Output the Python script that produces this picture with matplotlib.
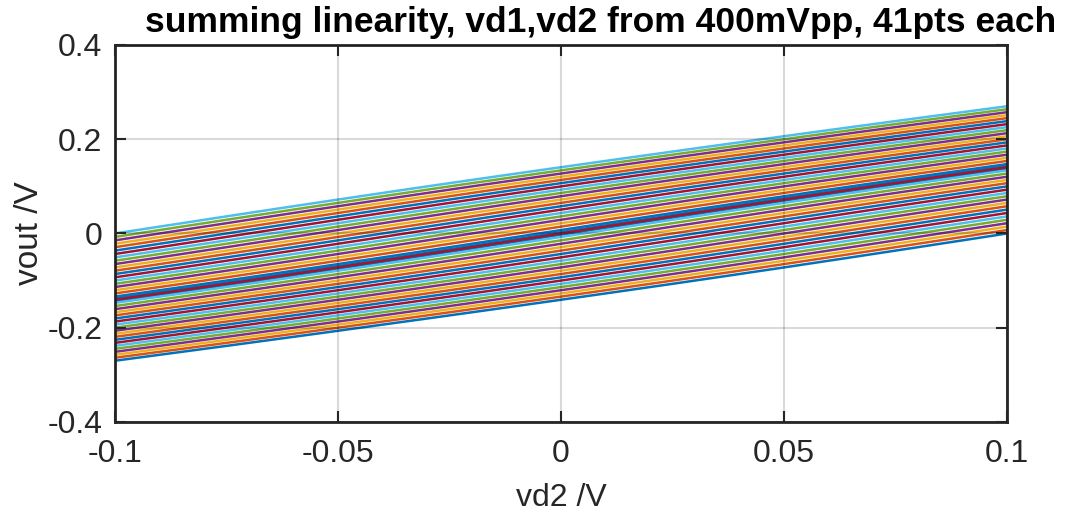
import numpy as np
import matplotlib
matplotlib.use("Agg")
import matplotlib.pyplot as plt

# sweep grids (41 pts each)
vd1 = np.linspace(-0.1, 0.1, 41)
vd2 = np.linspace(-0.1, 0.1, 41)

vout_neg = [-0.2700, -0.2637, -0.2574, -0.2511, -0.2448, -0.2385, -0.2321, -0.2257,
            -0.2193, -0.2129, -0.2064, -0.1999, -0.1934, -0.1869, -0.1804, -0.1738,
            -0.1672, -0.1606, -0.1540, -0.1473, -0.1406, -0.1339, -0.1272, -0.1204,
            -0.1136, -0.1068, -0.0999, -0.0930, -0.0860, -0.0790, -0.0720, -0.0649,
            -0.0578, -0.0507, -0.0435, -0.0363, -0.0291, -0.0218, -0.0146, -0.0073]
vout_pos = [0.0, 0.0073, 0.0146, 0.0218, 0.0291, 0.0363, 0.0435, 0.0507, 0.0578,
            0.0649, 0.0720, 0.0790, 0.0860, 0.0930, 0.0999, 0.1068, 0.1136, 0.1204,
            0.1272, 0.1339, 0.1406, 0.1473, 0.1540, 0.1606, 0.1672, 0.1738, 0.1804,
            0.1869, 0.1934, 0.1999, 0.2064, 0.2129, 0.2193, 0.2257, 0.2321, 0.2385,
            0.2448, 0.2511, 0.2574, 0.2637, 0.2700]
vout_table = np.array(vout_neg + vout_pos)

matlab_colors = ["#0072BD", "#D95319", "#EDB120", "#7E2F8E",
                 "#77AC30", "#4DBEEE", "#A2142F"]

xticks = [-0.1, -0.05, 0, 0.05, 0.1]
xticklabels = ["-0.1", "-0.05", "0", "0.05", "0.1"]
yticks = [-0.4, -0.2, 0, 0.2, 0.4]
yticklabels = ["-0.4", "-0.2", "0", "0.2", "0.4"]

plt.rcParams["font.family"] = ["Liberation Sans", "DejaVu Sans"]

fig = plt.figure(figsize=(10.69, 5.16), dpi=100)
ax = fig.add_axes([0.1076, 0.1822, 0.8344, 0.7306])

n = len(vd2)
mid = len(vd1) // 2
# highlighted vd1 = 0 curve underneath
ax.plot(vd2, vout_table[mid:mid + n], color="#0072BD", lw=3.6, zorder=1.5)
for i in range(len(vd1)):
    ax.plot(vd2, vout_table[i:i + n], color=matlab_colors[i % 7], lw=1.8, zorder=2)

ax.set_xlim(-0.1, 0.1)
ax.set_ylim(-0.4, 0.4)
ax.set_xticks(xticks)
ax.set_xticklabels(xticklabels)
ax.set_yticks(yticks)
ax.set_yticklabels(yticklabels)
ax.grid(True, color="black", alpha=0.15, lw=1.5)
ax.set_axisbelow(False)

ax.tick_params(direction="in", length=8, width=1.5, top=True, right=True,
               labelsize=23, colors="#262626")
ax.tick_params(axis="x", pad=12)
ax.tick_params(axis="y", pad=9)
for s in ax.spines.values():
    s.set_linewidth(2)
    s.set_color("#262626")

ax.set_xlabel("vd2 /V", fontsize=23, color="#262626", labelpad=10)
ax.set_ylabel("vout /V", fontsize=24, color="#262626", labelpad=2)
fig.text(0.562, 0.938, "summing linearity, vd1,vd2 from 400mVpp, 41pts each",
         ha="center", va="baseline", fontsize=25.5, fontweight="bold")

fig.savefig("out.png", dpi=100)
